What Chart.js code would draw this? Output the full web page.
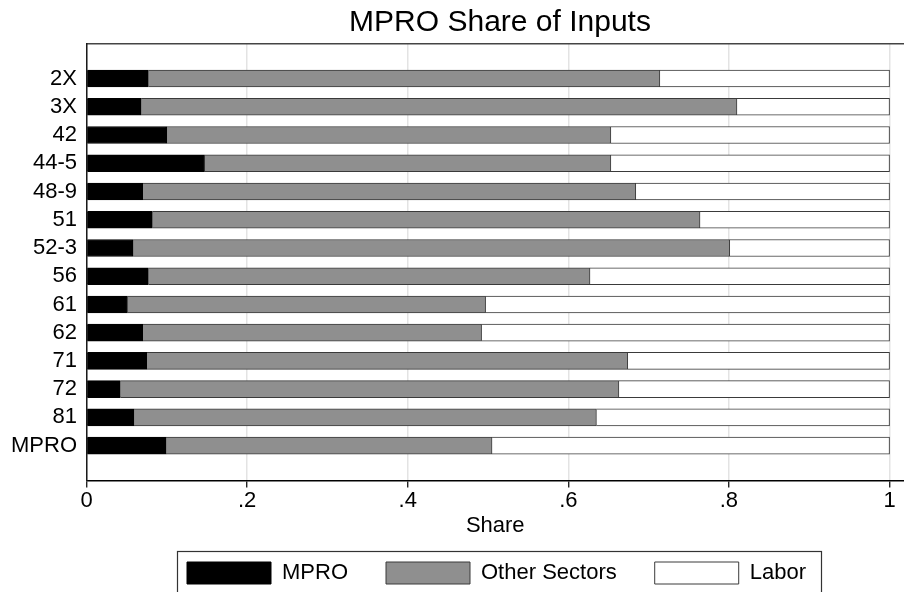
<!DOCTYPE html>
<html>
<head>
<meta charset="utf-8">
<script src="https://cdn.jsdelivr.net/npm/chart.js@4.4.1/dist/chart.umd.min.js"></script>
<style>
  body { margin: 0; background: #fff; }
  #wrap { width: 904px; height: 592px; }
</style>
</head>
<body>
<div id="wrap"><canvas id="myChart"></canvas></div>
<script>
const categories = ['2X', '3X', '42', '44-5', '48-9', '51', '52-3', '56', '61', '62', '71', '72', '81', 'MPRO'];
const mproShare = [0.077, 0.068, 0.100, 0.147, 0.070, 0.082, 0.058, 0.077, 0.051, 0.070, 0.075, 0.042, 0.059, 0.099];
const otherShare = [0.637, 0.742, 0.553, 0.506, 0.614, 0.682, 0.743, 0.550, 0.446, 0.422, 0.599, 0.621, 0.576, 0.406];
const laborShare = [0.286, 0.190, 0.347, 0.347, 0.316, 0.236, 0.199, 0.373, 0.503, 0.508, 0.326, 0.337, 0.365, 0.495];
const xTickValues = [0, 0.2, 0.4, 0.6, 0.8, 1];
const xTickLabels = ['0', '.2', '.4', '.6', '.8', '1'];

Chart.defaults.font.family = "'Liberation Sans', Arial, sans-serif";
Chart.defaults.color = '#000';

const ctx = document.getElementById('myChart').getContext('2d');

function toPoints(arr){
  return arr.map(function(v, i){ return {x: v, y: i}; });
}

// move title and legend so they sit centred like the stata graph region
const placeBlocks = {
  id: 'placeBlocks',
  afterLayout(chart){
    const t = chart.titleBlock;
    t.left = 96;
    t.right = chart.width;
    const lg = chart.legend;
    const pad = lg.options.labels.padding;
    lg.left = 2 * 187 - pad - lg.right + lg.lineWidths[0];
    lg.top = 562 - pad;
    lg.bottom = chart.height + 20;
  },
  afterDraw(chart){
    const c = chart.ctx;
    c.save();
    c.strokeStyle = '#333';
    c.lineWidth = 1.2;
    c.strokeRect(177.5, 551.5, 644, 60);
    c.restore();
  }
};

const myChart = new Chart(ctx, {
  type: 'bar',
  data: {
    datasets: [{
      label: 'MPRO',
      data: toPoints(mproShare),
      backgroundColor: '#000000',
      borderColor: '#000000',
      borderWidth: 1,
      barThickness: 17
    }, {
      label: 'Other Sectors',
      data: toPoints(otherShare),
      backgroundColor: '#8f8f8f',
      borderColor: '#3a3a3a',
      borderWidth: 1,
      barThickness: 17
    }, {
      label: 'Labor',
      data: toPoints(laborShare),
      backgroundColor: '#ffffff',
      borderColor: '#3a3a3a',
      borderWidth: 1,
      barThickness: 17
    }]
  },
  options: {
    responsive: true,
    maintainAspectRatio: false,
    animation: false,
    indexAxis: 'y',
    layout: { padding: 0 },
    plugins: {
      title: {
        display: true,
        text: 'MPRO Share of Inputs',
        font: { size: 30, weight: 'normal' },
        color: '#000',
        padding: { top: 4.5, bottom: 3.3 }
      },
      legend: {
        position: 'bottom',
        maxHeight: 54,
        labels: {
          boxWidth: 84,
          boxHeight: 22,
          padding: 38,
          font: { size: 22 },
          color: '#000'
        }
      },
      tooltip: { enabled: false }
    },
    scales: {
      x: {
        type: 'linear',
        stacked: true,
        min: 0,
        max: 1.018,
        afterBuildTicks: function(scale){
          scale.ticks = xTickValues.map(function(v){ return {value: v}; });
        },
        ticks: {
          padding: 0,
          font: { size: 22 },
          color: '#000',
          callback: function(value, index){ return xTickLabels[index]; }
        },
        grid: {
          color: '#e3e3e3',
          lineWidth: 1.5,
          tickLength: 7,
          tickColor: '#000',
          tickWidth: 1.2
        },
        border: { color: '#000', width: 1.5 },
        title: {
          display: true,
          text: 'Share',
          font: { size: 22, lineHeight: 1.1 },
          color: '#000',
          padding: 0
        }
      },
      x2: {
        type: 'linear',
        position: 'top',
        min: 0,
        max: 1.018,
        ticks: { display: false },
        grid: { drawOnChartArea: false, drawTicks: false },
        border: { color: '#444', width: 1.5 }
      },
      y: {
        type: 'linear',
        stacked: true,
        reverse: true,
        offset: false,
        bounds: 'data',
        min: -1.23,
        max: 14.23,
        afterFit: function(scale){ scale.width = 86.5; },
        afterBuildTicks: function(scale){
          scale.ticks = categories.map(function(c, i){ return {value: i}; });
        },
        ticks: {
          padding: 9.5,
          font: { size: 22 },
          color: '#000',
          callback: function(value){ return categories[value]; }
        },
        grid: { display: false, drawTicks: false, offset: false },
        border: { color: '#1a1a1a', width: 1.5 }
      }
    }
  },
  plugins: [placeBlocks]
});
</script>
</body>
</html>
